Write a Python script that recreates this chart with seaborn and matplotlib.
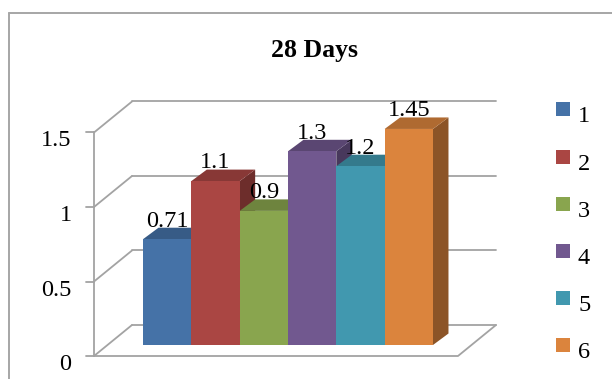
import numpy as np
import pandas as pd
import matplotlib
matplotlib.use("Agg")
import matplotlib.pyplot as plt
import seaborn as sns
from matplotlib.patches import Polygon, Rectangle
from matplotlib.lines import Line2D
from matplotlib.colors import to_rgb

# ---- data ----
title = "28 Days"
series = ["1", "2", "3", "4", "5", "6"]
values = [0.71, 1.1, 0.9, 1.3, 1.2, 1.45]
value_labels = ["0.71", "1.1", "0.9", "1.3", "1.2", "1.45"]
yticks = [0, 0.5, 1, 1.5]
ytick_labels = ["0", "0.5", "1", "1.5"]
colors = ["#4572A7", "#AA4643", "#89A54E", "#71588F", "#4198AF", "#DB843D"]

W, H = 612, 379
sns.set_style("white")
plt.rcParams['font.family'] = ['Liberation Serif', 'DejaVu Serif']

fig = plt.figure(figsize=(W / 100, H / 100), dpi=100)
ax = fig.add_axes([0, 0, 1, 1])

df = pd.DataFrame({"series": series, "value": values})
sns.barplot(data=df, x="series", y="value", hue="series", order=series,
            hue_order=series, palette=colors, width=1.0, saturation=1,
            legend=False, errorbar=None, ax=ax, linewidth=0, edgecolor="none")

# pixel <-> data mapping (bar front plane)
PXX = 48.33   # px per category unit
PXY = 149.0   # px per value unit
X0PX, FLOORPX = 143.0, 345.0


def dx(px):
    return -0.5 + (px - X0PX) / PXX


def dy(py):
    return (FLOORPX - py) / PXY


ax.set_xlim(dx(0), dx(W))
ax.set_ylim(dy(H), dy(0))
ax.axis('off')

FS = 17.5

# walls geometry
DX, DY = 38 / PXX, 31 / PXY          # full depth
x_f0, y_f0 = dx(94), dy(356)
x_f1 = dx(458)
x_b0, y_b0 = x_f0 + DX, y_f0 + DY
x_b1 = x_f1 + DX
gcol = "#a3a3a3"
glw = 1.3
top_v = max(yticks)
# front vertical axis
ax.add_line(Line2D([x_f0, x_f0], [y_f0, y_f0 + top_v], color=gcol, lw=glw, zorder=1))
for v, lbl in zip(yticks, ytick_labels):
    # left wall diagonal
    ax.add_line(Line2D([x_f0, x_b0], [y_f0 + v, y_b0 + v], color=gcol, lw=glw, zorder=1))
    # back wall gridline
    ax.add_line(Line2D([x_b0, x_b1], [y_b0 + v, y_b0 + v], color=gcol, lw=glw, zorder=1))
    # tick mark
    ax.add_line(Line2D([x_f0 - 8 / PXX, x_f0], [y_f0 + v, y_f0 + v], color=gcol, lw=glw, zorder=1))
    ax.text(dx(71.5), y_f0 + v - 14 / PXY, lbl, ha='right', va='baseline',
            fontsize=FS, color='black')
# floor front edge and right edge
ax.add_line(Line2D([x_f0, x_f1, x_b1], [y_f0, y_f0, y_b0], color=gcol, lw=glw, zorder=1))

# 3D bar faces
BDX, BDY = 15.5 / PXX, 11.5 / PXY
bars = sorted(ax.patches, key=lambda p: p.get_x())
for i, p in enumerate(bars):
    x0, w, h = p.get_x(), p.get_width(), p.get_height()
    base = np.array(to_rgb(p.get_facecolor()))
    side = Polygon([(x0 + w, 0), (x0 + w + BDX, BDY), (x0 + w + BDX, h + BDY), (x0 + w, h)],
                   closed=True, facecolor=base * 0.64, edgecolor='none', zorder=3 + 3 * i)
    top = Polygon([(x0, h), (x0 + w, h), (x0 + w + BDX, h + BDY), (x0 + BDX, h + BDY)],
                  closed=True, facecolor=base * 0.80, edgecolor='none', zorder=4 + 3 * i)
    ax.add_patch(side)
    ax.add_patch(top)
    p.set_zorder(5 + 3 * i)
    p.set_edgecolor('none')
    ax.text(x0 + w / 2, h + BDY + 0.008, value_labels[i], ha='center', va='baseline',
            fontsize=FS, color='black', zorder=60)

# legend (manual)
for i, (s, c) in enumerate(zip(series, colors)):
    cy = 109.5 + 47.1 * i
    ax.add_patch(Rectangle((dx(556), dy(cy + 7)), 14 / PXX, 14 / PXY,
                           facecolor=c, edgecolor='none', zorder=60))
    ax.text(dx(578), dy(cy + 13), s, ha='left', va='baseline', fontsize=FS, color='black')

# title
fig.text(315 / W, 1 - 57 / H, title, ha='center', va='baseline', fontsize=18.5,
         fontweight='bold', color='black')

# chart frame
fcol = "#a6a6a6"
fig.add_artist(Line2D([8.5 / W, 1.0], [1 - 12.5 / H, 1 - 12.5 / H], color=fcol, lw=1.4,
                      transform=fig.transFigure))
fig.add_artist(Line2D([8.5 / W, 8.5 / W], [1 - 12.5 / H, 0.0], color=fcol, lw=1.4,
                      transform=fig.transFigure))

fig.savefig("out.png", dpi=100)
